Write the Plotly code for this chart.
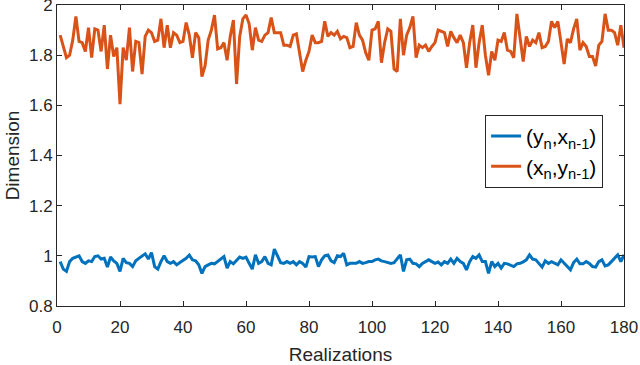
import plotly.graph_objects as go

realizations = list(range(1, 181))

dim_yx = [
    0.977, 0.947, 0.938, 0.977, 0.990, 0.995, 1.000, 0.977, 0.970, 0.980,
    0.977, 0.997, 1.000, 0.987, 0.990, 0.955, 0.995, 0.980, 0.970, 0.938,
    0.990, 0.973, 0.970, 0.957, 0.980, 0.990, 1.000, 1.008, 0.987, 1.013,
    0.957, 0.947, 0.977, 1.000, 0.977, 0.970, 0.977, 0.964, 0.973, 0.980,
    0.990, 1.003, 0.984, 0.980, 0.964, 0.930, 0.957, 0.964, 0.970, 0.968,
    0.977, 0.987, 0.997, 0.951, 0.977, 0.968, 0.980, 0.995, 0.990, 0.995,
    0.970, 0.947, 1.004, 0.970, 0.977, 0.997, 0.970, 0.964, 1.027, 1.000,
    0.973, 0.970, 0.977, 0.970, 0.977, 0.964, 0.977, 0.970, 0.955, 0.997,
    0.995, 0.997, 0.957, 0.984, 1.000, 1.003, 0.980, 0.973, 1.000, 0.997,
    1.010, 0.964, 0.970, 0.970, 0.970, 0.977, 0.970, 0.973, 0.977, 0.977,
    0.984, 0.987, 0.980, 0.977, 0.973, 0.970, 0.973, 0.990, 1.004, 0.938,
    0.984, 0.987, 0.970, 0.968, 0.957, 0.970, 0.977, 0.984, 0.977, 0.970,
    0.975, 0.964, 0.977, 0.970, 0.987, 0.970, 0.990, 0.977, 0.970, 0.944,
    0.977, 0.997, 0.990, 1.004, 0.977, 0.977, 0.930, 0.977, 0.957, 0.970,
    0.951, 0.970, 0.968, 0.964, 0.957, 0.968, 0.970, 0.976, 0.984, 1.004,
    0.987, 0.984, 0.970, 0.955, 0.980, 0.970, 0.977, 0.970, 0.964, 0.984,
    0.970, 0.957, 0.944, 0.973, 0.987, 0.968, 0.968, 0.977, 0.970, 0.957,
    0.955, 0.977, 0.984, 0.960, 0.964, 0.977, 0.990, 1.004, 0.977, 1.004,
]

dim_xy = [
    1.880, 1.835, 1.790, 1.800, 1.860, 1.955, 1.855, 1.850, 1.815, 1.910,
    1.790, 1.905, 1.900, 1.815, 1.920, 1.745, 1.880, 1.795, 1.830, 1.605,
    1.830, 1.780, 1.910, 1.735, 1.855, 1.850, 1.725, 1.875, 1.900, 1.890,
    1.855, 1.860, 1.945, 1.830, 1.920, 1.830, 1.890, 1.880, 1.850, 1.855,
    1.930, 1.880, 1.790, 1.890, 1.870, 1.715, 1.757, 1.860, 1.900, 1.960,
    1.825, 1.830, 1.850, 1.780, 1.875, 1.940, 1.685, 1.875, 1.945, 1.960,
    1.925, 1.820, 1.910, 1.860, 1.855, 1.880, 1.890, 1.950, 1.890, 1.890,
    1.890, 1.840, 1.840, 1.835, 1.880, 1.885, 1.810, 1.735, 1.780, 1.815,
    1.880, 1.850, 1.850, 1.855, 1.935, 1.875, 1.890, 1.880, 1.895, 1.865,
    1.875, 1.870, 1.830, 1.835, 1.930, 1.880, 1.860, 1.810, 1.780, 1.900,
    1.905, 1.935, 1.770, 1.850, 1.905, 1.895, 1.745, 1.735, 1.945, 1.800,
    1.880, 1.910, 1.955, 1.790, 1.840, 1.830, 1.840, 1.815, 1.835, 1.850,
    1.900, 1.895, 1.890, 1.835, 1.895, 1.870, 1.850, 1.880, 1.850, 1.750,
    1.850, 1.920, 1.750, 1.850, 1.920, 1.800, 1.720, 1.815, 1.780, 1.860,
    1.855, 1.890, 1.820, 1.815, 1.790, 1.965, 1.875, 1.775, 1.875, 1.835,
    1.860, 1.850, 1.890, 1.830, 1.835, 1.855, 1.935, 1.910, 1.935, 1.850,
    1.765, 1.865, 1.850, 1.905, 1.945, 1.820, 1.850, 1.835, 1.795, 1.795,
    1.757, 1.840, 1.855, 1.965, 1.900, 1.900, 1.890, 1.840, 1.920, 1.830,
]

series_names = ["(y<sub>n</sub>,x<sub>n-1</sub>)", "(x<sub>n</sub>,y<sub>n-1</sub>)"]
series_colors = ["#0072BD", "#D95319"]

x_ticks = list(range(0, 181, 20))
y_ticks = [0.8, 1.0, 1.2, 1.4, 1.6, 1.8, 2.0]
y_tick_labels = ["0.8", "1", "1.2", "1.4", "1.6", "1.8", "2"]

FONT = "Liberation Sans, Arial, Helvetica, sans-serif"
AX = "#262626"

fig = go.Figure()
for name, vals, col in zip(series_names, [dim_yx, dim_xy], series_colors):
    fig.add_trace(go.Scatter(x=realizations, y=vals, mode="lines", name=name,
                             line=dict(color=col, width=3)))

axis_common = dict(
    showline=True, linecolor=AX, linewidth=1, mirror="ticks",
    ticks="inside", ticklen=5, tickcolor=AX, tickwidth=1,
    showgrid=False, zeroline=False, automargin=False,
    ticklabeloverflow="allow",
    tickfont=dict(family=FONT, size=17, color=AX),
)

fig.update_layout(
    width=640, height=365,
    margin=dict(l=57, r=16, t=5, b=59),
    paper_bgcolor="white", plot_bgcolor="white",
    font=dict(family=FONT, size=17, color=AX),
    xaxis=dict(range=[0, 180], tickvals=x_ticks, ticklabelstandoff=6, **axis_common,
               title=dict(text="Realizations", font=dict(family=FONT, size=19, color=AX), standoff=15)),
    yaxis=dict(range=[0.7999, 2.0002], tickvals=y_ticks, ticktext=y_tick_labels, **axis_common,
               title=dict(text="Dimension", font=dict(family=FONT, size=19, color=AX), standoff=4)),
    legend=dict(x=0.755, y=0.635, xanchor="left", yanchor="top",
                bgcolor="white", bordercolor=AX, borderwidth=1,
                font=dict(family=FONT, size=21, color="black"),
                tracegroupgap=0),
    showlegend=True,
)

fig.write_html("out.html", config={"displayModeBar": False},
               post_script="document.body.style.margin='0';")
